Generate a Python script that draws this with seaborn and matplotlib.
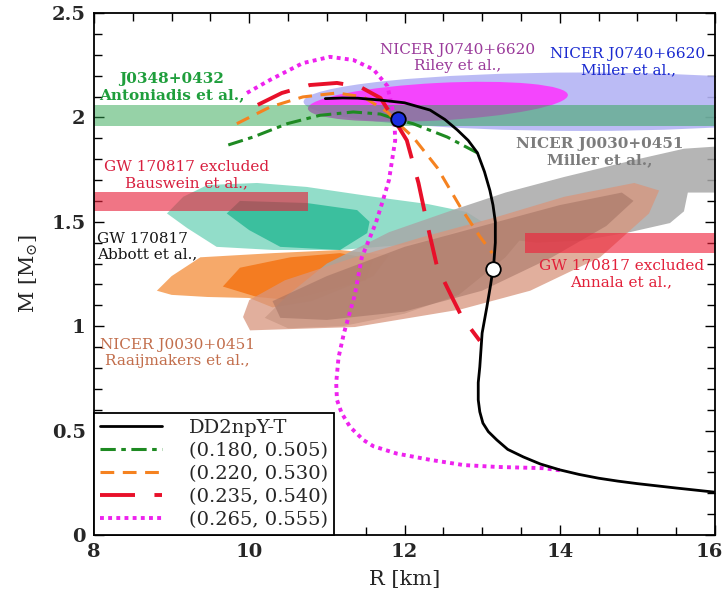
import numpy as np
import pandas as pd
import matplotlib
matplotlib.use("Agg")
import matplotlib.pyplot as plt
import matplotlib.transforms as mtransforms
from matplotlib.patches import Polygon, Ellipse, Rectangle
import seaborn as sns

# ---------------- data ----------------
# DD2npY-T
dd2_R = [16.0, 15.5, 15.0, 14.75, 14.5, 14.25, 14.0, 13.75, 13.53, 13.33, 13.19, 13.08, 13.01, 12.97,
         12.95, 12.95, 12.97, 13.0, 13.06, 13.11, 13.15, 13.17, 13.17, 13.14, 13.1, 13.03, 12.94,
         12.82, 12.68, 12.52, 12.33, 12.0, 11.69, 11.4, 11.2, 10.98]
dd2_M = [0.205, 0.225, 0.246, 0.258, 0.272, 0.29, 0.312, 0.34, 0.374, 0.41, 0.455, 0.495, 0.536, 0.59,
         0.647, 0.73, 0.805, 0.967, 1.09, 1.2, 1.3, 1.4, 1.5, 1.58, 1.65, 1.74, 1.83,
         1.89, 1.94, 1.99, 2.035, 2.07, 2.083, 2.092, 2.093, 2.09]
# (0.180, 0.505)
g_R = [9.73, 10.05, 10.49, 10.91, 11.34, 11.69, 11.9, 12.11, 12.55, 12.94]
g_M = [1.868, 1.906, 1.97, 2.01, 2.026, 2.016, 1.99, 1.97, 1.906, 1.83]
# (0.220, 0.530)
o_R = [9.84, 10.27, 10.69, 11.13, 11.47, 11.78, 11.92, 12.11, 12.42, 12.72, 12.97, 13.13]
o_M = [1.97, 2.05, 2.098, 2.117, 2.098, 2.026, 1.97, 1.906, 1.76, 1.57, 1.43, 1.35]
# (0.235, 0.540)
r_R = [10.11, 10.42, 10.78, 11.13, 11.43, 11.69, 11.85, 12.03, 12.18, 12.29, 12.42, 12.61, 12.74, 12.97]
r_M = [2.06, 2.117, 2.155, 2.165, 2.146, 2.093, 2.0, 1.89, 1.686, 1.494, 1.284, 1.14, 1.044, 0.93]
# (0.265, 0.555)
m_R = [14.0, 13.79, 13.19, 12.76, 12.33, 11.9, 11.6, 11.47, 11.3, 11.19, 11.13, 11.12, 11.15, 11.22,
       11.36, 11.45, 11.63, 11.72, 11.8, 11.88, 11.87, 11.84, 11.78, 11.6, 11.34, 11.04, 10.69, 10.27, 9.97]
m_M = [0.31, 0.32, 0.326, 0.335, 0.36, 0.39, 0.425, 0.455, 0.517, 0.584, 0.647, 0.728, 0.85, 0.967,
       1.15, 1.33, 1.494, 1.6, 1.7, 1.89, 1.99, 2.05, 2.15, 2.23, 2.275, 2.29, 2.26, 2.18, 2.117]

series_labels = ["DD2npY-T", "(0.180, 0.505)", "(0.220, 0.530)", "(0.235, 0.540)", "(0.265, 0.555)"]

# markers
blue_pt = (11.92, 1.99)
white_pt = (13.14, 1.275)

# observational regions
antoniadis_M = (1.96, 2.06)
bauswein_R = (8.0, 10.76)
bauswein_M = (1.55, 1.645)
annala_R = (13.55, 16.0)
annala_M = (1.35, 1.445)
# ellipses: centre R, centre M, full width (R), full height (M), angle
miller0740 = (14.3, 2.075, 7.2, 0.28, 0.0)
riley0740 = (12.43, 2.075, 3.35, 0.18, 1.1)

abbott_outer = [(8.94, 1.54), (9.15, 1.62), (9.46, 1.676), (10.1, 1.686), (10.74, 1.667), (11.6, 1.62),
                (12.3, 1.585), (12.8, 1.547), (13.0, 1.5), (12.5, 1.43), (12.0, 1.39), (11.17, 1.365),
                (10.31, 1.365), (9.58, 1.38), (9.2, 1.47)]
abbott_inner = [(9.71, 1.54), (9.88, 1.6), (10.74, 1.59), (11.39, 1.556), (11.55, 1.5), (11.52, 1.446),
                (11.17, 1.365), (10.4, 1.38), (10.0, 1.46)]
orange_outer = [(8.81, 1.17), (9.0, 1.24), (9.37, 1.33), (10.31, 1.35), (11.17, 1.365), (11.8, 1.34),
                (11.6, 1.24), (10.8, 1.12), (10.3, 1.09), (10.0, 1.135), (9.46, 1.14), (9.0, 1.15)]
orange_inner = [(9.66, 1.19), (9.88, 1.28), (10.53, 1.33), (11.17, 1.35), (11.6, 1.32), (11.5, 1.22),
                (10.53, 1.125), (10.1, 1.14)]
miller0030 = [(10.2, 1.04), (10.5, 1.15), (11.0, 1.3), (11.8, 1.45), (12.62, 1.556), (13.3, 1.64),
              (14.06, 1.715), (14.96, 1.796), (15.6, 1.85), (16.0, 1.86), (16.0, 1.64), (15.65, 1.64),
              (15.6, 1.55), (15.42, 1.494), (14.9, 1.45), (14.29, 1.41), (13.7, 1.4), (13.48, 1.41),
              (13.3, 1.33), (12.7, 1.15), (12.0, 1.06), (11.2, 1.0), (10.5, 0.99)]
raaij_outer = [(9.92, 1.044), (10.0, 1.125), (10.46, 1.22), (11.36, 1.33), (12.26, 1.43), (13.16, 1.52),
               (14.06, 1.62), (14.96, 1.686), (15.28, 1.65), (15.15, 1.54), (14.52, 1.33), (13.62, 1.17),
               (12.72, 1.08), (11.36, 0.996), (10.01, 0.98)]
raaij_inner = [(10.3, 1.12), (11.0, 1.24), (12.0, 1.38), (13.0, 1.48), (14.0, 1.58), (14.8, 1.64),
               (14.95, 1.6), (14.6, 1.48), (13.9, 1.33), (13.0, 1.17), (12.0, 1.07), (11.0, 1.03), (10.4, 1.04)]

x_ticks = [8, 10, 12, 14, 16]
y_ticks = [0, 0.5, 1, 1.5, 2, 2.5]
y_ticklabels = ["0", "0.5", "1", "1.5", "2", "2.5"]

# ---------------- plotting ----------------
sns.set_theme(style="ticks")
plt.rcParams["font.family"] = ["DejaVu Serif", "DejaVu Sans"]
plt.rcParams["mathtext.fontset"] = "dejavuserif"

fig = plt.figure(figsize=(7.26, 6.04), dpi=100)
ax = fig.add_axes([94 / 726, 69 / 604, 621 / 726, 522 / 604])

# regions
ax.add_patch(Ellipse(miller0740[:2], miller0740[2], miller0740[3], angle=miller0740[4],
                     facecolor="#b4b4f4", edgecolor="none", alpha=0.9, zorder=1))
ax.add_patch(Ellipse(riley0740[:2], riley0740[2], riley0740[3], angle=riley0740[4],
                     facecolor="#ff30ff", edgecolor="none", alpha=0.85, zorder=1.1))
ax.add_patch(Rectangle((8, antoniadis_M[0]), 8, antoniadis_M[1] - antoniadis_M[0],
                       facecolor="#2fa650", edgecolor="none", alpha=0.5, zorder=1.2))
ax.add_patch(Polygon(abbott_outer, closed=True, facecolor="#7fd8c0", edgecolor="none", alpha=0.85, zorder=1.3))
ax.add_patch(Polygon(abbott_inner, closed=True, facecolor="#25b894", edgecolor="none", alpha=0.8, zorder=1.4))
ax.add_patch(Polygon(orange_outer, closed=True, facecolor="#f5a05a", edgecolor="none", alpha=0.9, zorder=1.5))
ax.add_patch(Polygon(orange_inner, closed=True, facecolor="#f47414", edgecolor="none", alpha=0.85, zorder=1.6))
ax.add_patch(Polygon(miller0030, closed=True, facecolor="#a8a8a8", edgecolor="none", alpha=0.85, zorder=1.7))
ax.add_patch(Polygon(raaij_outer, closed=True, facecolor="#d8957c", edgecolor="none", alpha=0.75, zorder=1.8))
ax.add_patch(Polygon(raaij_inner, closed=True, facecolor="#9c6c5e", edgecolor="none", alpha=0.5, zorder=1.9))
ax.add_patch(Rectangle((bauswein_R[0], bauswein_M[0]), bauswein_R[1] - bauswein_R[0],
                       bauswein_M[1] - bauswein_M[0], facecolor="#e8203a", edgecolor="none",
                       alpha=0.62, zorder=2))
ax.add_patch(Rectangle((annala_R[0], annala_M[0]), annala_R[1] - annala_R[0],
                       annala_M[1] - annala_M[0], facecolor="#f0203a", edgecolor="none",
                       alpha=0.62, zorder=2))

# curves
curves = [
    (dd2_R, dd2_M, "black", 2.0, None),
    (g_R, g_M, "#1e8a22", 2.2, (5, 1.8, 1.5, 1.8)),
    (o_R, o_M, "#f58220", 2.2, (4.5, 2.8)),
    (r_R, r_M, "#e8102a", 2.8, (9, 5)),
    (m_R, m_M, "#ee22ee", 2.8, (1.0, 1.1)),
]
handles = []
for (R, M, col, lw, dash), lab in zip(curves, series_labels):
    df = pd.DataFrame({"R": R, "M": M})
    n_before = len(ax.lines)
    sns.lineplot(data=df, x="R", y="M", sort=False, estimator=None, color=col, lw=lw, ax=ax,
                 zorder=5 if dash is None else 4)
    ln = ax.lines[n_before]
    ln.set_solid_joinstyle("round")
    if dash is not None:
        ln.set_dashes(dash)
    ln.set_label(lab)
    handles.append(ln)

sns.scatterplot(x=[blue_pt[0]], y=[blue_pt[1]], s=110, color="#1a2fe0", edgecolor="black",
                linewidth=1.3, zorder=6, ax=ax)
sns.scatterplot(x=[white_pt[0]], y=[white_pt[1]], s=110, color="white", edgecolor="black",
                linewidth=1.3, zorder=6, ax=ax)

# annotations
ax.text(9.0, 2.145, "J0348+0432\nAntoniadis et al.,", color="#1f9e3c", fontsize=11, fontweight="bold",
        ha="center", va="center", linespacing=1.15, zorder=7)
ax.text(9.19, 1.724, "GW 170817 excluded\nBauswein et al.,", color="#d81e3e", fontsize=11,
        ha="center", va="center", linespacing=1.15, zorder=7)
ax.text(8.04, 1.38, "GW 170817\nAbbott et al.,", color="#151515", fontsize=11,
        ha="left", va="center", linespacing=1.15, zorder=7)
ax.text(9.07, 0.872, "NICER J0030+0451\nRaaijmakers et al.,", color="#c26e4c", fontsize=11,
        ha="center", va="center", linespacing=1.15, zorder=7)
ax.text(12.69, 2.284, "NICER J0740+6620\nRiley et al.,", color="#9a3a9a", fontsize=11,
        ha="center", va="center", linespacing=1.15, zorder=7)
ax.text(14.88, 2.265, "NICER J0740+6620\nMiller et al.,", color="#1a2ad0", fontsize=11,
        ha="center", va="center", linespacing=1.15, zorder=7)
ax.text(14.52, 1.834, "NICER J0030+0451\nMiller et al.,", color="#7c7c7c", fontsize=11, fontweight="bold",
        ha="center", va="center", linespacing=1.15, zorder=7)
ax.text(14.79, 1.25, "GW 170817 excluded\nAnnala et al.,", color="#e2203a", fontsize=11,
        ha="center", va="center", linespacing=1.15, zorder=7)

# axes styling
ax.set_xlim(8, 16)
ax.set_ylim(0, 2.5)
ax.set_xticks(x_ticks)
ax.set_xticklabels([str(t) for t in x_ticks])
ax.set_yticks(y_ticks)
ax.set_yticklabels(y_ticklabels)
ax.set_xticks(np.arange(8, 16.01, 0.5), minor=True)
ax.set_yticks(np.arange(0, 2.501, 0.1), minor=True)
ax.tick_params(which="both", direction="in", top=True, right=True, color="black", width=1.0)
ax.tick_params(which="major", length=7, labelsize=14, pad=6)
ax.tick_params(which="minor", length=6)
for lab in ax.get_xticklabels() + ax.get_yticklabels():
    lab.set_fontweight("bold")
# keep the last x tick label inside the figure
last = ax.get_xticklabels()[-1]
last.set_transform(last.get_transform() + mtransforms.ScaledTranslation(-6 / 100, 0, fig.dpi_scale_trans))
for sp in ax.spines.values():
    sp.set_linewidth(1.3)
    sp.set_color("black")
ax.set_xlabel("R [km]", fontsize=15, labelpad=6)
ax.set_ylabel(r"M [M$_{\odot}$]", fontsize=15, labelpad=8)

leg = ax.legend(handles=handles, loc="lower left", fontsize=14, frameon=True, fancybox=False,
                edgecolor="black", framealpha=1, borderaxespad=0, handlelength=3.2,
                handletextpad=1.4, labelspacing=0.26, borderpad=0.3)
leg.get_frame().set_linewidth(1.3)
leg.set_zorder(10)

fig.savefig("out.png", dpi=100)
